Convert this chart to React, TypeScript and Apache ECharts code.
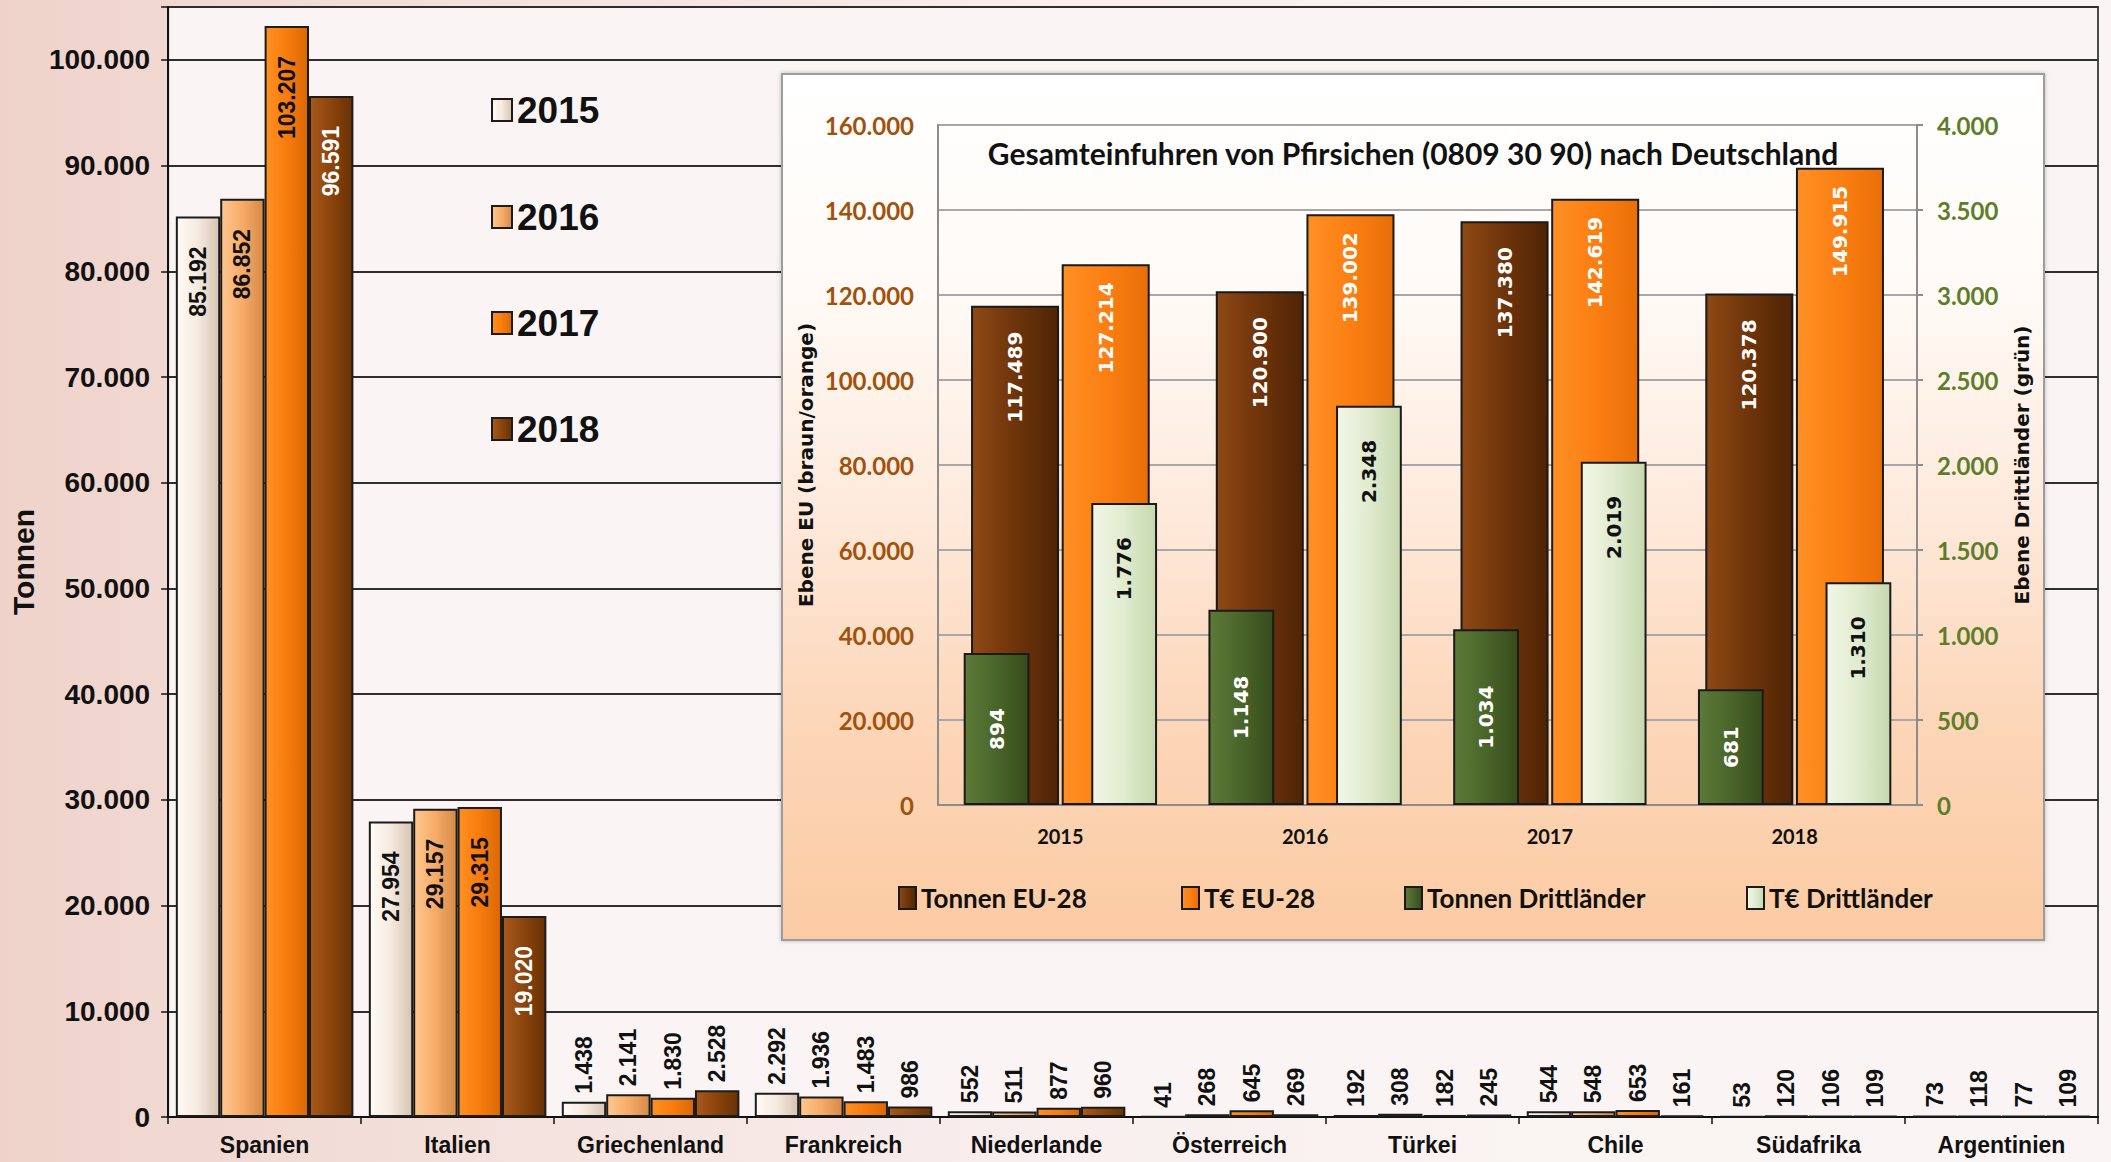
import React, { useEffect, useRef } from 'react';
import * as echarts from 'echarts';

// ---- main chart data ----
const countries = ['Spanien', 'Italien', 'Griechenland', 'Frankreich', 'Niederlande', 'Österreich', 'Türkei', 'Chile', 'Südafrika', 'Argentinien'];
const years = ['2015', '2016', '2017', '2018'];
const v2015 = [85192, 27954, 1438, 2292, 552, 41, 192, 544, 53, 73];
const v2016 = [86852, 29157, 2141, 1936, 511, 268, 308, 548, 120, 118];
const v2017 = [103207, 29315, 1830, 1483, 877, 645, 182, 653, 106, 77];
const v2018 = [96591, 19020, 2528, 986, 960, 269, 245, 161, 109, 109];
const mainValues = [v2015, v2016, v2017, v2018];

// ---- inset chart data ----
const insetTitle = 'Gesamteinfuhren von Pfirsichen (0809 30 90) nach Deutschland';
const insetYears = ['2015', '2016', '2017', '2018'];
const insetNames = ['Tonnen EU-28', 'T€ EU-28', 'Tonnen Drittländer', 'T€ Drittländer'];
const tonnenEU = [117489, 120900, 137380, 120378];
const teurEU = [127214, 139002, 142619, 149915];
const tonnenDritt = [894, 1148, 1034, 681];
const teurDritt = [1776, 2348, 2019, 1310];

const fmt = (v: number) => String(Math.round(v)).replace(/\B(?=(\d{3})+(?!\d))/g, '.');

const grad = (stops: string[], vertical = false) => ({
  type: 'linear',
  x: 0,
  y: 0,
  x2: vertical ? 0 : 1,
  y2: vertical ? 1 : 0,
  colorStops: stops.map((c, i) => ({ offset: i / (stops.length - 1), color: c })),
});

const F1 = '"Liberation Sans", Arial, sans-serif';
const F2 = 'Lato, "Open Sans", sans-serif';
const F3 = '"DejaVu Sans", Verdana, sans-serif';

export default function App() {
  const ref = useRef<HTMLDivElement>(null);

  useEffect(() => {
    const chart = echarts.init(ref.current!, null, { renderer: 'svg' });

    const mainColors = [
      ['#fffbf6', '#f5eadf', '#d7c3b0'],
      ['#fdc890', '#f6ab68', '#d68a48'],
      ['#ff9022', '#f87c0e', '#da6804'],
      ['#a9591a', '#8a440c', '#683105'],
    ];
    const mainInsideText = ['#111', '#111', '#111', '#fff'];

    const mainSeries = years.map((y, i) => ({
      name: y,
      type: 'bar',
      xAxisIndex: 0,
      yAxisIndex: 0,
      barGap: '0%',
      barCategoryGap: '8%',
      z: 2,
      itemStyle: { color: grad(mainColors[i]), borderColor: '#1c1c1c', borderWidth: 2 },
      label: {
        show: true,
        rotate: 90,
        fontFamily: F1,
        fontWeight: 'bold',
        fontSize: 23,
        formatter: (p: any) => fmt(p.value),
      },
      data: mainValues[i].map((v) => ({
        value: v,
        label:
          v > 10000
            ? { position: 'insideTop', distance: 30, align: 'right', verticalAlign: 'middle', color: mainInsideText[i] }
            : { position: 'top', distance: 8, align: 'left', verticalAlign: 'middle', color: '#111' },
      })),
    }));

    const insetLabelBase = {
      show: true,
      rotate: 90,
      fontFamily: F3,
      fontWeight: 'bold',
      fontSize: 20,
      formatter: (p: any) => fmt(p.value),
    };

    const insetSeries = [
      {
        name: insetNames[0],
        type: 'bar',
        xAxisIndex: 1,
        yAxisIndex: 1,
        barGap: '3%',
        barCategoryGap: '27%',
        z: 5,
        itemStyle: { color: grad(['#8f4915', '#6e340a', '#4f2406']), borderColor: '#1a1a1a', borderWidth: 2 },
        label: { ...insetLabelBase, position: 'insideTop', distance: 26, align: 'right', verticalAlign: 'middle', color: '#fff' },
        data: tonnenEU,
      },
      {
        name: insetNames[1],
        type: 'bar',
        xAxisIndex: 1,
        yAxisIndex: 1,
        barGap: '3%',
        barCategoryGap: '27%',
        z: 5,
        itemStyle: { color: grad(['#ff9025', '#fb7f12', '#e86e08']), borderColor: '#1a1a1a', borderWidth: 2 },
        label: { ...insetLabelBase, position: 'insideTop', distance: 18, align: 'right', verticalAlign: 'middle', color: '#fff' },
        data: teurEU,
      },
      {
        name: insetNames[2],
        type: 'bar',
        xAxisIndex: 2,
        yAxisIndex: 2,
        barGap: '94%',
        barCategoryGap: '21%',
        z: 6,
        itemStyle: { color: grad(['#5d7a38', '#4a652a', '#364c1c']), borderColor: '#1a1a1a', borderWidth: 2 },
        label: { ...insetLabelBase, position: 'inside', align: 'center', verticalAlign: 'middle', color: '#fff' },
        data: tonnenDritt,
      },
      {
        name: insetNames[3],
        type: 'bar',
        xAxisIndex: 2,
        yAxisIndex: 2,
        barGap: '94%',
        barCategoryGap: '21%',
        z: 6,
        itemStyle: { color: grad(['#f1f7e6', '#e0ebcf', '#c6d8ae']), borderColor: '#1a1a1a', borderWidth: 2 },
        label: { ...insetLabelBase, position: 'insideTop', distance: 34, align: 'right', verticalAlign: 'middle', color: '#111' },
        data: teurDritt,
      },
    ];

    const mainLegendCenters = [110, 217, 323, 429];
    const mainLegends = years.map((y, i) => ({
      data: [y],
      orient: 'vertical',
      left: 491,
      top: mainLegendCenters[i] - 20,
      padding: 0,
      itemWidth: 20,
      itemHeight: 22,
      icon: 'rect',
      selectedMode: false,
      textStyle: { fontSize: 37, fontWeight: 'bold', fontFamily: F1, color: '#111', lineHeight: 40 },
    }));

    const insetLegendLefts = [898, 1181, 1404, 1746];
    const insetLegends = insetNames.map((n, i) => ({
      data: [n],
      left: insetLegendLefts[i],
      top: 885,
      padding: 0,
      itemWidth: 17,
      itemHeight: 22,
      icon: 'rect',
      selectedMode: false,
      z: 8,
      textStyle: { fontSize: 26, fontWeight: 'bold', fontFamily: F2, color: '#111' },
    }));

    const option: any = {
      animation: false,
      backgroundColor: grad(['#efd3cb', '#f4e2de', '#f8efee', '#faf4f3', '#faf5f4']),
      graphic: [
        {
          type: 'rect',
          z: 3,
          shape: { x: 782, y: 74, width: 1262, height: 866 },
          style: {
            fill: grad(['#ffffff', '#fffaf6', '#feeadc', '#fcd6b8', '#fbcba3'], true),
            stroke: '#9c9c9c',
            lineWidth: 2,
            shadowBlur: 4,
            shadowColor: 'rgba(0,0,0,0.25)',
          },
        },
        {
          type: 'text',
          z: 10,
          x: 1413,
          y: 153,
          style: {
            text: insetTitle,
            fontSize: 30,
            fontWeight: 'bold',
            fontFamily: F2,
            fill: '#111',
            align: 'center',
            verticalAlign: 'middle',
          },
        },
      ],
      legend: [...mainLegends, ...insetLegends],
      grid: [
        { left: 168, top: 7, width: 1930, height: 1110, show: true, backgroundColor: '#faf5f4', borderColor: '#4a4a4a', borderWidth: 2, z: 0 },
        { left: 938, top: 125, width: 979, height: 680, show: true, backgroundColor: 'rgba(255,255,255,0)', borderColor: '#9a9a9a', borderWidth: 2, z: 4 },
      ],
      xAxis: [
        {
          type: 'category',
          gridIndex: 0,
          data: countries,
          axisLine: { lineStyle: { color: '#111', width: 2 } },
          axisTick: { show: true, length: 7, lineStyle: { color: '#111', width: 1.5 } },
          axisLabel: { interval: 0, margin: 16, fontSize: 23, fontWeight: 'bold', color: '#111', fontFamily: F1 },
        },
        {
          type: 'category',
          gridIndex: 1,
          data: insetYears,
          z: 4,
          axisLine: { lineStyle: { color: '#8c8c8c', width: 2 } },
          axisTick: { show: false },
          axisLabel: { interval: 0, margin: 21, fontSize: 20, fontWeight: 'bold', color: '#111', fontFamily: F2 },
        },
        {
          type: 'category',
          gridIndex: 1,
          data: insetYears,
          show: false,
        },
      ],
      yAxis: [
        {
          type: 'value',
          gridIndex: 0,
          min: 0,
          max: 105000,
          interval: 10000,
          name: 'Tonnen',
          nameLocation: 'middle',
          nameGap: 127,
          nameTextStyle: { fontSize: 30, fontWeight: 'bold', color: '#111', fontFamily: F1 },
          axisLine: { show: true, lineStyle: { color: '#111', width: 2 } },
          axisTick: { show: true, length: 7, lineStyle: { color: '#111', width: 1.5 } },
          splitLine: { lineStyle: { color: '#2e2e2e', width: 2 } },
          axisLabel: {
            formatter: (v: number) => (v > 100000 ? '' : fmt(v)),
            margin: 18,
            fontSize: 28,
            fontWeight: 'bold',
            color: '#111',
            fontFamily: F1,
          },
        },
        {
          type: 'value',
          gridIndex: 1,
          min: 0,
          max: 160000,
          interval: 20000,
          position: 'left',
          z: 4,
          name: 'Ebene EU (braun/orange)',
          nameLocation: 'middle',
          nameGap: 122,
          nameTextStyle: { fontFamily: F3, fontWeight: 'bold', fontSize: 20, color: '#111' },
          axisLine: { show: true, lineStyle: { color: '#8c8c8c', width: 2 } },
          axisTick: { show: false },
          splitLine: { lineStyle: { color: '#a8a8a8', width: 2 } },
          axisLabel: { formatter: (v: number) => fmt(v), margin: 24, fontSize: 24, fontWeight: 'bold', color: '#a0520c', fontFamily: F2 },
        },
        {
          type: 'value',
          gridIndex: 1,
          min: 0,
          max: 4000,
          interval: 500,
          position: 'right',
          z: 4,
          name: 'Ebene Drittländer (grün)',
          nameLocation: 'middle',
          nameGap: 95,
          nameTextStyle: { fontFamily: F3, fontWeight: 'bold', fontSize: 20, color: '#111' },
          axisLine: { show: true, lineStyle: { color: '#8c8c8c', width: 2 } },
          axisTick: { show: true, length: 6, lineStyle: { color: '#8c8c8c', width: 2 } },
          splitLine: { show: false },
          axisLabel: { formatter: (v: number) => fmt(v), margin: 20, fontSize: 24, fontWeight: 'bold', color: '#5e7d2a', fontFamily: F2 },
        },
      ],
      series: [...mainSeries, ...insetSeries],
    };

    chart.setOption(option);
    return () => chart.dispose();
  }, []);

  return <div ref={ref} style={{ position: 'fixed', left: 0, top: 0, width: 2111, height: 1162 }} />;
}
